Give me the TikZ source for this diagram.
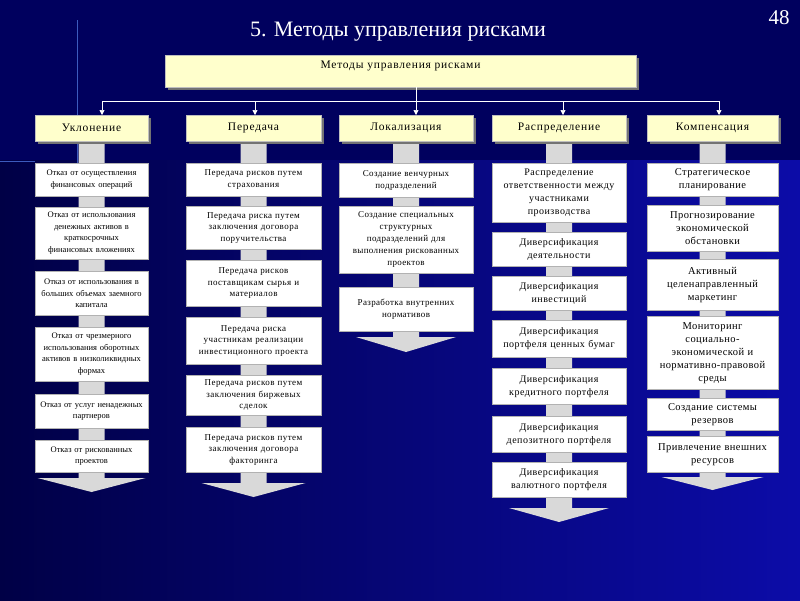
\documentclass[tikz,border=0pt]{standalone}
\usepackage{fontspec}
\setmainfont{Liberation Serif}
\usetikzlibrary{arrows.meta,shadows}
\definecolor{topbg}{RGB}{0,0,94}
\definecolor{botleft}{RGB}{0,0,70}
\definecolor{botright}{RGB}{12,12,168}
\definecolor{ybox}{RGB}{255,255,204}
\definecolor{stemg}{RGB}{217,217,217}
\definecolor{decoline}{RGB}{60,90,190}
\begin{document}
\begin{tikzpicture}[x=1pt,y=-1pt,
  title/.style={text=white,font=\fontsize{22}{26}\selectfont,inner sep=0pt},
  pagenum/.style={text=white,font=\fontsize{21}{24}\selectfont,inner sep=0pt},
  ybx/.style={fill=ybox,draw=gray!50,line width=0.4pt,
    drop shadow={shadow xshift=3pt,shadow yshift=-3pt,fill=black!55,opacity=1},
    anchor=north,inner sep=0pt},
  lvl/.style={ybx,minimum height=26pt,font=\fontsize{11.5}{13}\selectfont\addfontfeature{LetterSpace=7}},
  wb/.style={draw=gray!60,fill=white,line width=0.5pt,align=center,
    inner xsep=2pt,inner ysep=0pt,anchor=north},
  ca/.style={wb,text width=109pt,font=\fontsize{8.5}{11.5}\selectfont},
  cb/.style={wb,text width=131pt,font=\fontsize{9}{11.5}\selectfont\addfontfeature{LetterSpace=5}},
  cc/.style={wb,text width=130pt,font=\fontsize{9}{12}\selectfont\addfontfeature{LetterSpace=4}},
  cd/.style={wb,text width=130pt,font=\fontsize{10}{13}\selectfont\addfontfeature{LetterSpace=5}},
  ce/.style={wb,text width=127pt,font=\fontsize{10.5}{13}\selectfont\addfontfeature{LetterSpace=4}},
  stemfill/.style={fill=stemg},
  conn/.style={draw=white,line width=0.7pt},
  arr/.style={conn,-{Triangle[width=5pt,length=5pt]}}
]
\useasboundingbox (0,0) rectangle (800,600);
% background
\fill[topbg] (0,0) rectangle (800,160);
\shade[left color=botleft,right color=botright] (0,160) rectangle (800,600);
\draw[decoline,line width=0.8pt] (77,20) -- (77,170);
\draw[decoline,line width=0.8pt] (0,161) -- (35,161);

% title
\node[title] (title) at (398,32) {5. Методы управления рисками};
\node[pagenum] (num) at (779,18) {48};

% stems and arrows
\fill[stemfill] (78.5,141) -- (104.5,141) -- (104.5,478) -- (145.5,478) -- (91.5,492) -- (37.5,478) -- (78.5,478) -- cycle;
\fill[stemfill] (240.5,141) -- (266.5,141) -- (266.5,483) -- (305.5,483) -- (253.5,497) -- (201.5,483) -- (240.5,483) -- cycle;
\fill[stemfill] (393,141) -- (419,141) -- (419,337) -- (456,337) -- (406,352) -- (356,337) -- (393,337) -- cycle;
\fill[stemfill] (546,141) -- (572,141) -- (572,508) -- (609,508) -- (559,522) -- (509,508) -- (546,508) -- cycle;
\fill[stemfill] (699.5,141) -- (725.5,141) -- (725.5,477) -- (763.5,477) -- (712.5,490) -- (661.5,477) -- (699.5,477) -- cycle;

% top box
\node[ybx,minimum width=471pt,minimum height=32pt,text depth=15pt,text height=9pt,
  font=\fontsize{11.5}{13}\selectfont\addfontfeature{LetterSpace=7}] (top) at (400.5,55) {Методы управления рисками};

% level 2
\node[lvl,minimum width=113pt] (uk) at (91.5,115) {Уклонение};
\node[lvl,minimum width=135pt] (pe) at (253.5,115) {Передача};
\node[lvl,minimum width=134pt] (lo) at (406,115) {Локализация};
\node[lvl,minimum width=134pt] (ra) at (559,115) {Распределение};
\node[lvl,minimum width=131pt] (ko) at (712.5,115) {Компенсация};

% connectors
\coordinate (jt) at (416,101);
\coordinate (j1) at (102,101);
\coordinate (j2) at (255,101);
\coordinate (j3) at (416,101);
\coordinate (j4) at (563,101);
\coordinate (j5) at (719,101);
\draw[conn] (top.south -| jt) -- (jt);
\draw[conn] (j1) -- (j5);
\draw[arr] (j1) -- (uk.north -| j1);
\draw[arr] (j2) -- (pe.north -| j2);
\draw[arr] (j3) -- (lo.north -| j3);
\draw[arr] (j4) -- (ra.north -| j4);
\draw[arr] (j5) -- (ko.north -| j5);

% column 1
\node[ca,minimum height=33pt] (a1) at (91.5,163) {Отказ от осуществления\\финансовых операций};
\node[ca,minimum height=52pt] (a2) at (91.5,207) {Отказ от использования\\денежных активов в\\краткосрочных\\финансовых вложениях};
\node[ca,minimum height=44pt] (a3) at (91.5,271) {Отказ от использования в\\больших объемах заемного\\капитала};
\node[ca,minimum height=54pt] (a4) at (91.5,327) {Отказ от чрезмерного\\использования оборотных\\активов в низколиквидных\\формах};
\node[ca,minimum height=34pt] (a5) at (91.5,394) {Отказ от услуг ненадежных\\партнеров};
\node[ca,minimum height=32pt] (a6) at (91.5,440) {Отказ от рискованных\\проектов};

% column 2
\node[cb,minimum height=33pt] (b1) at (253.5,163) {Передача рисков путем\\страхования};
\node[cb,minimum height=43pt] (b2) at (253.5,206) {Передача риска путем\\заключения договора\\поручительства};
\node[cb,minimum height=46pt] (b3) at (253.5,260) {Передача рисков\\поставщикам сырья и\\материалов};
\node[cb,minimum height=47pt] (b4) at (253.5,317) {Передача риска\\участникам реализации\\инвестиционного проекта};
\node[cb,minimum height=40pt] (b5) at (253.5,375) {Передача рисков путем\\заключения биржевых\\сделок};
\node[cb,minimum height=45pt] (b6) at (253.5,427) {Передача рисков путем\\заключения договора\\факторинга};

% column 3
\node[cc,minimum height=34pt] (c1) at (406,163) {Создание венчурных\\подразделений};
\node[cc,minimum height=67pt] (c2) at (406,206) {Создание специальных\\структурных\\подразделений для\\выполнения рискованных\\проектов};
\node[cc,minimum height=44pt] (c3) at (406,287) {Разработка внутренних\\нормативов};

% column 4
\node[cd,minimum height=59pt] (d1) at (559,163) {Распределение\\ответственности между\\участниками\\производства};
\node[cd,minimum height=34pt] (d2) at (559,232) {Диверсификация\\деятельности};
\node[cd,minimum height=34pt] (d3) at (559,276) {Диверсификация\\инвестиций};
\node[cd,minimum height=37pt] (d4) at (559,320) {Диверсификация\\портфеля ценных бумаг};
\node[cd,minimum height=36pt] (d5) at (559,368) {Диверсификация\\кредитного портфеля};
\node[cd,minimum height=36pt] (d6) at (559,416) {Диверсификация\\депозитного портфеля};
\node[cd,minimum height=35pt] (d7) at (559,462) {Диверсификация\\валютного портфеля};

% column 5
\node[ce,minimum height=33pt] (e1) at (712.5,163) {Стратегическое\\планирование};
\node[ce,minimum height=46pt] (e2) at (712.5,205) {Прогнозирование\\экономической\\обстановки};
\node[ce,minimum height=51pt] (e3) at (712.5,259) {Активный\\целенаправленный\\маркетинг};
\node[ce,minimum height=73pt] (e4) at (712.5,316) {Мониторинг\\социально-\\экономической и\\нормативно-правовой\\среды};
\node[ce,minimum height=32pt] (e5) at (712.5,398) {Создание системы\\резервов};
\node[ce,minimum height=36pt] (e6) at (712.5,436) {Привлечение внешних\\ресурсов};
\end{tikzpicture}
\end{document}
